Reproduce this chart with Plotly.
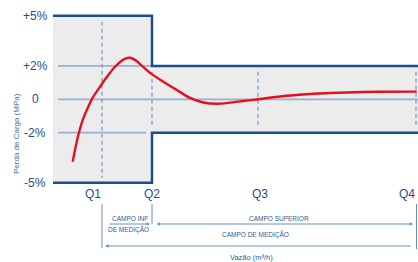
import plotly.graph_objects as go

# ---- data ----
flow = [72.7, 75, 78.3, 83.3, 88.3, 93.3, 100, 108.3, 115, 121.7, 126.7, 130, 135,
        141.7, 150, 163.3, 176.7, 190, 203.3, 216.7, 230, 243.3, 258.3, 273.3, 286.7,
        296.7, 313.3, 346.7, 380, 416.7]
error = [-3.74, -3.04, -2.14, -1.14, -0.44, 0.16, 0.75, 1.45, 1.95, 2.31, 2.47, 2.49,
         2.36, 2.02, 1.58, 1.05, 0.56, 0.08, -0.19, -0.27, -0.20, -0.10, 0.0, 0.12,
         0.21, 0.26, 0.33, 0.41, 0.45, 0.46]
q_labels = ["Q1", "Q2", "Q3", "Q4"]
q_flow = [102, 152, 258, 416]
flow_start = 53
flow_end = 420
lower_limit = 5    # +/-5 % below Q2
upper_limit = 2    # +/-2 % above Q2
y_ticks = [5, 2, 0, -2, -5]
y_tick_text = ["+5%", "+2%", "0", "-2%", "-5%"]

DARK = "#1c4f8a"
GRID = "#98b0d4"
DASH = "#7d9bcb"
TXT = "#1f4e8a"
SMALL = "#2e5c96"
RED = "#e3101e"

PX0, PPU = 99.3, 16.7   # pixel row of 0 %, pixels per %
def ypx(p):
    return (PX0 - p) / PPU

q1, q2, q3, q4 = q_flow
fig = go.Figure()

# grey tolerance area
fig.add_trace(go.Scatter(
    x=[flow_start, q2, q2, flow_end, flow_end, q2, q2, flow_start],
    y=[lower_limit, lower_limit, upper_limit, upper_limit, -upper_limit, -upper_limit, -lower_limit, -lower_limit],
    fill="toself", fillcolor="#ececec", line=dict(width=0), mode="lines", hoverinfo="skip"))

# grid lines
gx0 = flow_start + 5
for yv, xe in [(upper_limit, q2), (0, flow_end), (-upper_limit, q2 - 6)]:
    fig.add_trace(go.Scatter(x=[gx0, xe], y=[yv, yv], mode="lines",
                             line=dict(color=GRID, width=1.8), hoverinfo="skip"))

# dashed Q lines
for i, q in enumerate(q_flow):
    top = 4.65 if i == 0 else 1.65
    bot = -4.7 if i == 0 else -1.7
    fig.add_trace(go.Scatter(x=[q, q], y=[top, bot], mode="lines",
                             line=dict(color=DASH, width=1.3, dash="4px,3px"), hoverinfo="skip"))

# outline
for s in (1, -1):
    fig.add_trace(go.Scatter(
        x=[flow_start, q2, q2, flow_end],
        y=[s * lower_limit, s * lower_limit, s * upper_limit, s * upper_limit],
        mode="lines", line=dict(color=DARK, width=2.5), hoverinfo="skip"))

# error curve
fig.add_trace(go.Scatter(x=flow, y=error, mode="lines",
                         line=dict(color=RED, width=2.4, shape="spline", smoothing=0.7)))

ann = []
for yv, t in zip(y_ticks, y_tick_text):
    ann.append(dict(x=35, y=yv, text=t, showarrow=False, xanchor="center", yanchor="middle",
                    font=dict(size=12, color=TXT)))
anchors = ["right", "center", "center", "right"]
offs = [1, 0, 2, 1]
for q, t, a, o in zip(q_flow, q_labels, anchors, offs):
    ann.append(dict(x=q + o, y=ypx(193.5), text=t, showarrow=False, xanchor=a, yanchor="middle",
                    font=dict(size=12, color=TXT)))

ann.append(dict(x=16, y=ypx(134), text="Perda de Carga (MPa)", textangle=-90, showarrow=False,
                font=dict(size=8, color="#3f6ea8")))

sf = dict(size=6.5, color=SMALL)
ann += [
    dict(x=110, y=ypx(218), text="CAMPO INF", showarrow=False, xanchor="left", font=sf),
    dict(x=106, y=ypx(229.5), text="DE MEDIÇÃO", showarrow=False, xanchor="left", font=sf),
    dict(x=279, y=ypx(218.5), text="CAMPO SUPERIOR", showarrow=False, font=sf),
    dict(x=255, y=ypx(234.5), text="CAMPO DE MEDIÇÃO", showarrow=False, font=sf),
    dict(x=251, y=ypx(257.5), text="Vazão (m³/h)", showarrow=False, font=dict(size=7.5, color=SMALL)),
]
ARC = "#6a90c4"
# arrows
ann += [
    dict(x=q2 - 2, y=ypx(224), ax=q1 + 6, ay=0, axref="x", ayref="pixel", showarrow=True,
         arrowhead=2, arrowsize=0.7, arrowwidth=1, arrowcolor=ARC, text=""),
    dict(x=q4 - 3, y=ypx(224), ax=q2 + 3, ay=0, axref="x", ayref="pixel", showarrow=True,
         arrowhead=2, startarrowhead=2, arrowside="end+start", arrowsize=0.7, startarrowsize=0.7,
         arrowwidth=1, arrowcolor=ARC, text=""),
    dict(x=q1 + 3, y=ypx(246), ax=q4 - 4, ay=0, axref="x", ayref="pixel", showarrow=True,
         arrowhead=2, arrowsize=0.7, arrowwidth=1, arrowcolor=ARC, text=""),
]

shapes = []
for q, p0, p1 in [(q1, 204, 248), (q2, 204, 224), (q4 + 0.5, 204, 249)]:
    shapes.append(dict(type="line", x0=q, x1=q, y0=ypx(p0), y1=ypx(p1),
                       line=dict(color=ARC, width=1)))

fig.update_layout(
    width=418, height=262, margin=dict(l=0, r=0, t=0, b=0),
    paper_bgcolor="white", plot_bgcolor="white", showlegend=False,
    font=dict(family="Liberation Sans, Arial, sans-serif"),
    xaxis=dict(range=[0, 418], visible=False, fixedrange=True),
    yaxis=dict(range=[ypx(262), ypx(0)], visible=False, fixedrange=True),
    annotations=ann, shapes=shapes,
)
fig.write_html("out.html", config={"displayModeBar": False},
               post_script="document.body.style.margin='0';document.body.style.overflow='hidden';")
